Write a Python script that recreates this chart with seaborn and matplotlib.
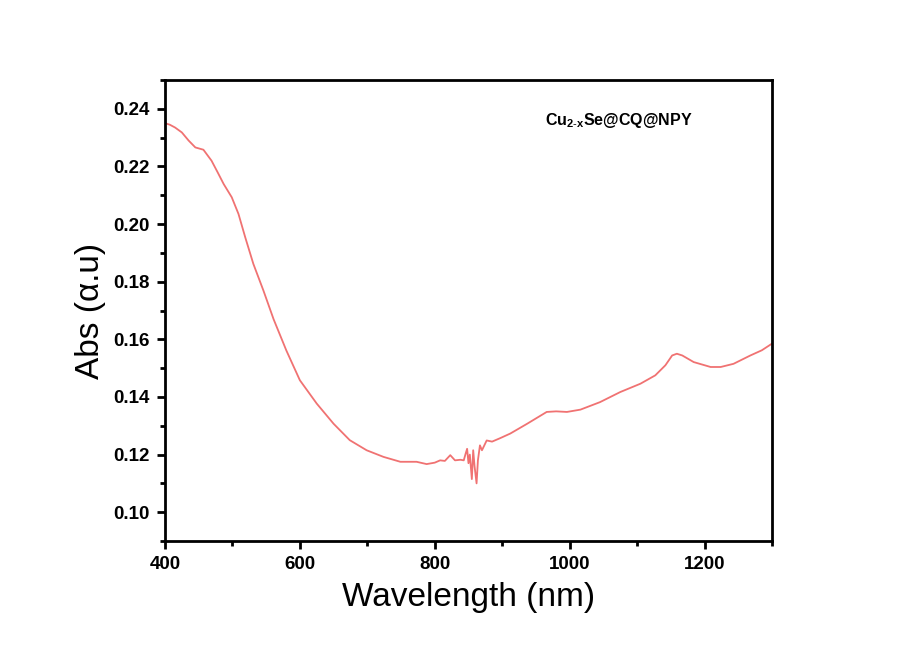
import matplotlib
matplotlib.use("Agg")
import matplotlib.pyplot as plt
import seaborn as sns
import pandas as pd
from matplotlib.ticker import MultipleLocator

wavelength = [400, 407, 415, 425, 435, 445, 457, 469, 478, 487, 499, 509, 519, 531, 546,
              561, 580, 600, 625, 650, 674, 699, 724, 749, 773, 788, 800, 808, 815, 823,
              830, 838, 843, 846, 848, 850, 852, 855, 857, 859, 862, 864, 867, 870, 877,
              885, 897, 912, 937, 966, 980, 996, 1016, 1045, 1075, 1105, 1127, 1142, 1152,
              1159, 1167, 1184, 1209, 1224, 1243, 1268, 1285, 1300]
absorbance = [0.2350, 0.2345, 0.2335, 0.2318, 0.2290, 0.2266, 0.2258, 0.2220, 0.2180, 0.2139,
              0.2093, 0.2035, 0.1954, 0.1862, 0.1769, 0.1670, 0.1561, 0.1458, 0.1377, 0.1307,
              0.1250, 0.1215, 0.1192, 0.1175, 0.1175, 0.1167, 0.1172, 0.1180, 0.1178, 0.1198,
              0.1180, 0.1182, 0.1180, 0.1205, 0.1220, 0.1170, 0.1200, 0.1115, 0.1215, 0.1160,
              0.1100, 0.1180, 0.1232, 0.1215, 0.1249, 0.1245, 0.1257, 0.1273, 0.1307, 0.1348,
              0.1350, 0.1348, 0.1356, 0.1382, 0.1417, 0.1446, 0.1475, 0.1510, 0.1544, 0.1550,
              0.1544, 0.1521, 0.1504, 0.1504, 0.1515, 0.1544, 0.1562, 0.1585]

x_ticks = [400, 600, 800, 1000, 1200]
y_ticks = [0.10, 0.12, 0.14, 0.16, 0.18, 0.20, 0.22, 0.24]
y_tick_labels = ["0.10", "0.12", "0.14", "0.16", "0.18", "0.20", "0.22", "0.24"]
sample_label = r"Cu$_{\mathbf{2\text{-}x}}$Se@CQ@NPY"

sns.set_style("ticks")
plt.rcParams["font.family"] = ["Liberation Sans", "DejaVu Sans"]
plt.rcParams["mathtext.fontset"] = "custom"
plt.rcParams["mathtext.rm"] = "Liberation Sans"
plt.rcParams["mathtext.bf"] = "Liberation Sans:bold"
for key in ["text.color", "axes.labelcolor", "xtick.color", "ytick.color", "axes.edgecolor"]:
    plt.rcParams[key] = "black"

df = pd.DataFrame({"Wavelength": wavelength, "Abs": absorbance})

fig = plt.figure(figsize=(9.05, 6.70), dpi=100)
ax = fig.add_axes([0.1823, 0.1925, 0.6707, 0.6881])

sns.lineplot(data=df, x="Wavelength", y="Abs", ax=ax, sort=False, estimator=None,
             color="#F07272", linewidth=1.3)

ax.set_xlim(400, 1300)
ax.set_ylim(0.09, 0.25)
ax.set_xticks(x_ticks)
ax.set_yticks(y_ticks)
ax.set_yticklabels(y_tick_labels)
ax.xaxis.set_minor_locator(MultipleLocator(100))
ax.yaxis.set_minor_locator(MultipleLocator(0.01))

for s in ax.spines.values():
    s.set_visible(True)
    s.set_linewidth(2.0)
    s.set_color("black")

ax.tick_params(axis="both", which="major", direction="out", length=6, width=2,
               labelsize=13.5, pad=5, colors="black")
ax.tick_params(axis="both", which="minor", direction="out", length=3.5, width=2,
               colors="black")
for lbl in ax.get_xticklabels() + ax.get_yticklabels():
    lbl.set_fontweight("bold")

ax.set_xlabel("Wavelength (nm)", fontsize=24, labelpad=6, color="black")
ax.set_ylabel("Abs (α.u)", fontsize=24, labelpad=5, color="black")

ax.text(0.626, 0.913, sample_label, transform=ax.transAxes, fontsize=11.5,
        fontweight="bold", ha="left", va="center", color="black")

fig.savefig("out.png", dpi=100, facecolor="white")
